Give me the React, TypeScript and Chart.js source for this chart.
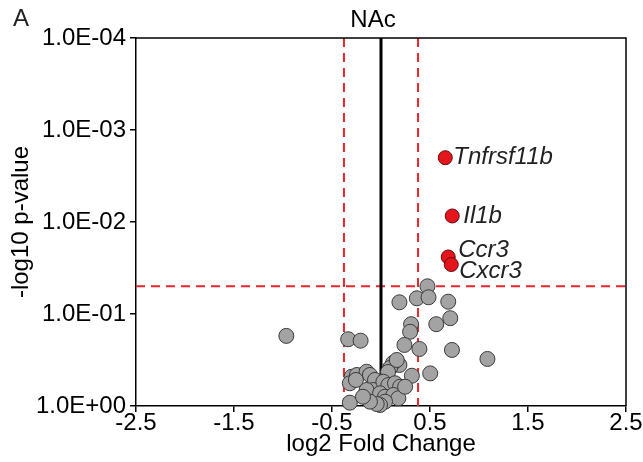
import React, { useEffect, useRef } from "react";
import { Chart, registerables } from "chart.js";

Chart.register(...registerables);

// ---- data ----
const xTicks = [-2.5, -1.5, -0.5, 0.5, 1.5, 2.5];
const yTicks = [1e-4, 1e-3, 1e-2, 1e-1, 1];

const sigGenes = ["Tnfrsf11b", "Il1b", "Ccr3", "Cxcr3"];
const sigFC = [0.656, 0.727, 0.686, 0.717];
const sigP = [0.002, 0.0086, 0.024, 0.029];

const nsFC = [
  0.474, 0.366, 0.485, 0.188, 0.686, 0.707, 0.564, 0.307, 0.297, -0.966,
  -0.335, -0.208, 0.239, 0.392, 0.724, 1.086,
  0.188, 0.123, 0.092, 0.161, 0.072, 0.315, 0.502, -0.3, -0.246, -0.147,
  -0.113, -0.318, -0.061, -0.079, 0.024, 0.075, 0.143, 0.195, -0.147, -0.01,
  0.041, 0.126, 0.177, 0.041, -0.01, -0.044, -0.318, -0.113, -0.184, 0.246,
  -0.256,
];
const nsP = [
  0.05, 0.0675, 0.0658, 0.0746, 0.0735, 0.111, 0.129, 0.129, 0.156, 0.173,
  0.188, 0.195, 0.217, 0.24, 0.246, 0.308,
  0.358, 0.341, 0.386, 0.316, 0.427, 0.469, 0.442, 0.481, 0.46, 0.424,
  0.46, 0.566, 0.521, 0.67, 0.545, 0.592, 0.566, 0.617, 0.67, 0.728,
  0.793, 0.759, 0.824, 0.897, 0.975, 0.951, 0.92, 0.897, 0.793, 0.617,
  0.521,
];

const fcCutoff = 0.378;
const pCutoff = 0.05;
const yMin = 1e-4;
const yMax = 1;

const FONT = "'Liberation Sans', Arial, Helvetica, sans-serif";

function fmtExp(v: number): string {
  const e = Math.round(Math.log10(v));
  const s = e < 0 ? "-" : "+";
  return "1.0E" + s + String(Math.abs(e)).padStart(2, "0");
}

const annotatePlugin = {
  id: "annotate",
  afterDatasetsDraw(chart: any) {
    const ctx = chart.ctx;
    const { chartArea } = chart;
    ctx.save();
    // box
    ctx.strokeStyle = "#000";
    ctx.lineWidth = 1.5;
    ctx.beginPath();
    ctx.moveTo(chartArea.left, chartArea.top);
    ctx.lineTo(chartArea.right, chartArea.top);
    ctx.lineTo(chartArea.right, chartArea.bottom);
    ctx.stroke();
    // gene labels
    const meta = chart.getDatasetMeta(0);
    const offs = [
      [8, 0],
      [11, 0],
      [10, -7],
      [8, 7],
    ];
    ctx.fillStyle = "#222";
    ctx.font = "italic 24px " + FONT;
    ctx.textAlign = "left";
    ctx.textBaseline = "middle";
    meta.data.forEach((pt: any, i: number) => {
      ctx.fillText(sigGenes[i], pt.x + offs[i][0], pt.y + offs[i][1]);
    });
    ctx.restore();
  },
  afterDraw(chart: any) {
    const ctx = chart.ctx;
    ctx.save();
    ctx.fillStyle = "#000";
    ctx.font = "24px " + FONT;
    ctx.textBaseline = "middle";
    ctx.textAlign = "center";
    ctx.fillText("NAc", 373, 20);
    ctx.textAlign = "left";
    ctx.fillStyle = "#222";
    ctx.fillText("A", 13, 19);
    ctx.restore();
  },
};

export default function App() {
  const ref = useRef<HTMLCanvasElement | null>(null);
  useEffect(() => {
    document.body.style.margin = "0";
    const canvas = ref.current;
    if (!canvas) return;
    const chart = new Chart(canvas, {
      type: "scatter",
      data: {
        datasets: [
          {
            label: "sig",
            data: sigFC.map((x, i) => ({ x, y: sigP[i] })),
            backgroundColor: "#e3151d",
            borderColor: "#6a0a0a",
            borderWidth: 1,
            pointRadius: 7,
            clip: false,
            order: 0,
          } as any,
          {
            label: "ns",
            data: nsFC.map((x, i) => ({ x, y: nsP[i] })),
            backgroundColor: "#a3a3a3",
            borderColor: "#3a3a3a",
            borderWidth: 1,
            pointRadius: 7.5,
            clip: false,
            order: 1,
          } as any,
          {
            type: "line",
            label: "zero",
            data: [
              { x: 0, y: yMin },
              { x: 0, y: yMax },
            ],
            borderColor: "#000",
            borderWidth: 3,
            pointRadius: 0,
            order: 2,
          } as any,
          {
            type: "line",
            label: "fcL",
            data: [
              { x: -fcCutoff, y: yMin },
              { x: -fcCutoff, y: yMax },
            ],
            borderColor: "#e8262c",
            borderWidth: 2,
            borderDash: [9, 6],
            pointRadius: 0,
            order: 3,
          } as any,
          {
            type: "line",
            label: "fcR",
            data: [
              { x: fcCutoff, y: yMin },
              { x: fcCutoff, y: yMax },
            ],
            borderColor: "#e8262c",
            borderWidth: 2,
            borderDash: [9, 6],
            pointRadius: 0,
            order: 3,
          } as any,
          {
            type: "line",
            label: "pcut",
            data: [
              { x: -2.5, y: pCutoff },
              { x: 2.5, y: pCutoff },
            ],
            borderColor: "#e8262c",
            borderWidth: 2,
            borderDash: [9, 6],
            pointRadius: 0,
            order: 3,
          } as any,
        ],
      },
      options: {
        animation: false,
        responsive: false,
        layout: { padding: { top: 38, right: 17, left: 0, bottom: 0 } },
        plugins: {
          legend: { display: false },
          tooltip: { enabled: false },
          title: { display: false },
        },
        scales: {
          x: {
            type: "linear",
            min: -2.5,
            max: 2.5,
            afterBuildTicks: (s: any) => {
              s.ticks = xTicks.map((v) => ({ value: v }));
            },
            afterFit: (s: any) => {
              s.height = 56;
            },
            ticks: {
              color: "#000",
              font: { family: FONT, size: 24 },
              padding: -3,
              autoSkip: false,
              maxRotation: 0,
              callback: (v: any) => String(v),
            },
            grid: {
              drawOnChartArea: false,
              drawTicks: true,
              tickLength: 6,
              color: "#000",
              lineWidth: 1.5,
            },
            border: { color: "#000", width: 1.5 },
            title: {
              display: true,
              text: "log2 Fold Change",
              color: "#000",
              font: { family: FONT, size: 24 },
              padding: { top: 0, bottom: 3 },
            },
          },
          y: {
            type: "logarithmic",
            reverse: true,
            min: yMin,
            max: yMax,
            afterBuildTicks: (s: any) => {
              s.ticks = yTicks.map((v) => ({ value: v, major: true }));
            },
            afterFit: (s: any) => {
              s.width = 136;
            },
            ticks: {
              color: "#000",
              font: { family: FONT, size: 24 },
              padding: 4,
              autoSkip: false,
              callback: (v: any) => fmtExp(Number(v)),
            },
            grid: {
              drawOnChartArea: false,
              drawTicks: true,
              tickLength: 6,
              color: "#000",
              lineWidth: 1.5,
            },
            border: { color: "#000", width: 1.5 },
            title: {
              display: true,
              text: "-log10 p-value",
              color: "#000",
              font: { family: FONT, size: 24 },
              padding: { top: 7, bottom: 0 },
            },
          },
        },
      } as any,
      plugins: [annotatePlugin],
    });
    return () => chart.destroy();
  }, []);
  return (
    <div style={{ width: 643, height: 462, background: "#fff" }}>
      <canvas ref={ref} width={643} height={462} />
    </div>
  );
}
